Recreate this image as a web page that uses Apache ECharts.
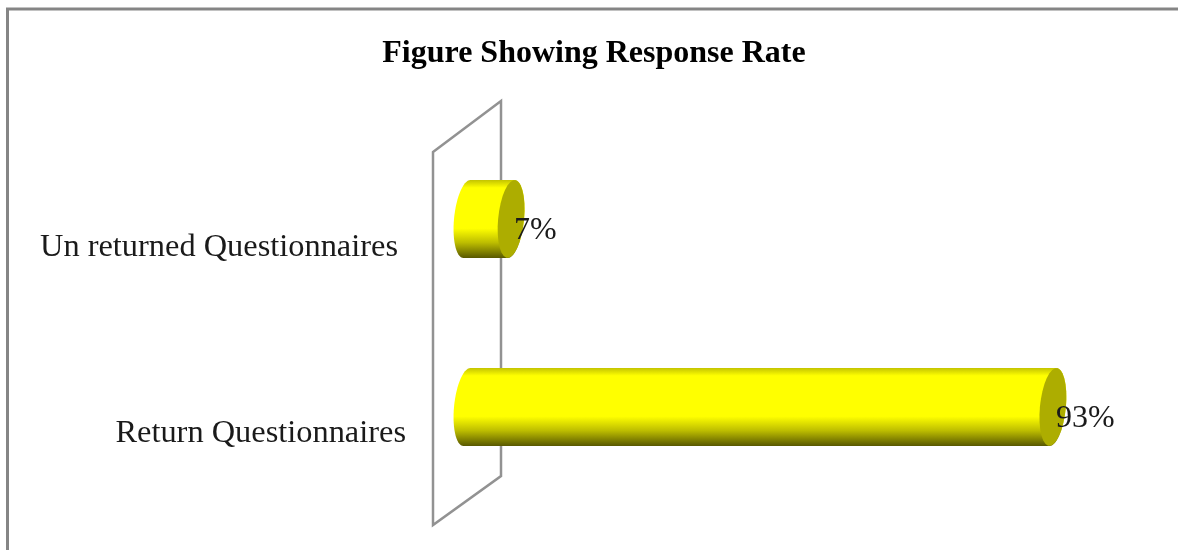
<!DOCTYPE html>
<html>
<head>
<meta charset="utf-8">
<style>
    html, body { margin: 0; padding: 0; background: #fff; }
    #chart { width: 1178px; height: 550px; }
</style>
<script src="https://cdn.jsdelivr.net/npm/echarts@6/dist/echarts.min.js"></script>
</head>
<body>
<div id="chart"></div>
<script>
const categories = ['Return Questionnaires', 'Un returned Questionnaires']
const values = [93, 7]
const labels = ['93%', '7%']

const FONT = '"Liberation Serif", "Times New Roman", serif'

// points of a slightly skewed ellipse, from angle a to angle b
const ellipse = (cx, cy, rx, ry, sk, a, b) => {
    const pts = []
    for (let i = 0; i <= 30; i++) {
        const t = (a + (b - a) * i / 30) * Math.PI / 180
        pts.push([cx + rx * Math.cos(t) + sk * Math.sin(t), cy + ry * Math.sin(t)])
    }
    return pts
}

// 圆柱
const renderCylinder = (params, api) => {
    const x0 = api.coord([0, api.value(1)])
    const x1 = api.coord([api.value(0), api.value(1)])
    const rx = 13, ry = 39, sk = -3.5
    const cy = x0[1]
    const body = ellipse(x0[0], cy, rx, ry, sk, 90, 270).concat(ellipse(x1[0], cy, rx, ry, sk, -90, 90))
    return {
        type: 'group',
        children: [{
            type: 'polygon',
            shape: { points: body },
            style: {
                fill: new echarts.graphic.LinearGradient(0, 0, 0, 1, [
                    { offset: 0, color: '#c4c400' },
                    { offset: 0.1, color: '#ffff00' },
                    { offset: 0.62, color: '#ffff00' },
                    { offset: 0.8, color: '#bebe00' },
                    { offset: 1, color: '#585800' }
                ])
            }
        }, {
            type: 'polygon',
            shape: { points: ellipse(x1[0], cy, rx, ry, sk, 0, 360) },
            style: { fill: '#adad00' }
        }, {
            type: 'text',
            style: {
                x: x1[0] + 3,
                y: cy + 12,
                text: labels[params.dataIndex],
                font: '32px ' + FONT,
                fill: '#1a1a1a',
                verticalAlign: 'middle'
            }
        }]
    }
}

// 背后的竖直面板
const renderWall = (params, api) => {
    const base = api.coord([0, 0])
    const top = params.coordSys.y
    const h = params.coordSys.height
    return {
        type: 'polygon',
        shape: {
            points: [
                [base[0] - 34, top + 27],
                [base[0] + 34, top - 24],
                [base[0] + 34, top + h - 25],
                [base[0] - 34, top + h + 24]
            ]
        },
        style: { fill: 'none', stroke: '#929292', lineWidth: 2.5 }
    }
}

const chart = echarts.init(document.getElementById('chart'))
chart.setOption({
    animation: false,
    backgroundColor: '#ffffff',
    title: {
        text: 'Figure Showing Response Rate',
        left: 589,
        top: 33,
        textAlign: 'center',
        textStyle: { fontFamily: FONT, fontSize: 32, fontWeight: 'bold', color: '#000000' }
    },
    grid: { left: 467, top: 125, width: 630, height: 376 },
    xAxis: { type: 'value', min: 0, max: 100, show: false },
    yAxis: {
        type: 'category',
        data: categories,
        axisLine: { show: false },
        axisTick: { show: false },
        axisLabel: {
            margin: 61,
            formatter: (v, i) => (i === 0 ? '{a|' + v + '}' : '{b|' + v + '}'),
            rich: {
                a: { fontFamily: FONT, fontSize: 32.4, color: '#1a1a1a', padding: [52, 0, 0, 0] },
                b: { fontFamily: FONT, fontSize: 32.4, color: '#1a1a1a', padding: [56, 8, 0, 0] }
            }
        }
    },
    series: [{
        type: 'custom',
        name: 'wall',
        renderItem: renderWall,
        data: [[0, 0]],
        encode: { x: 0, y: 1 },
        z: 1,
        silent: true
    }, {
        type: 'custom',
        name: 'Response Rate',
        renderItem: renderCylinder,
        data: values.map((v, i) => [v, i]),
        encode: { x: 0, y: 1 },
        z: 2
    }],
    graphic: [{
        type: 'rect',
        shape: { x: 7.5, y: 9, width: 1400, height: 560 },
        style: { fill: 'none', stroke: '#858585', lineWidth: 3 },
        silent: true
    }]
})
</script>
</body>
</html>
